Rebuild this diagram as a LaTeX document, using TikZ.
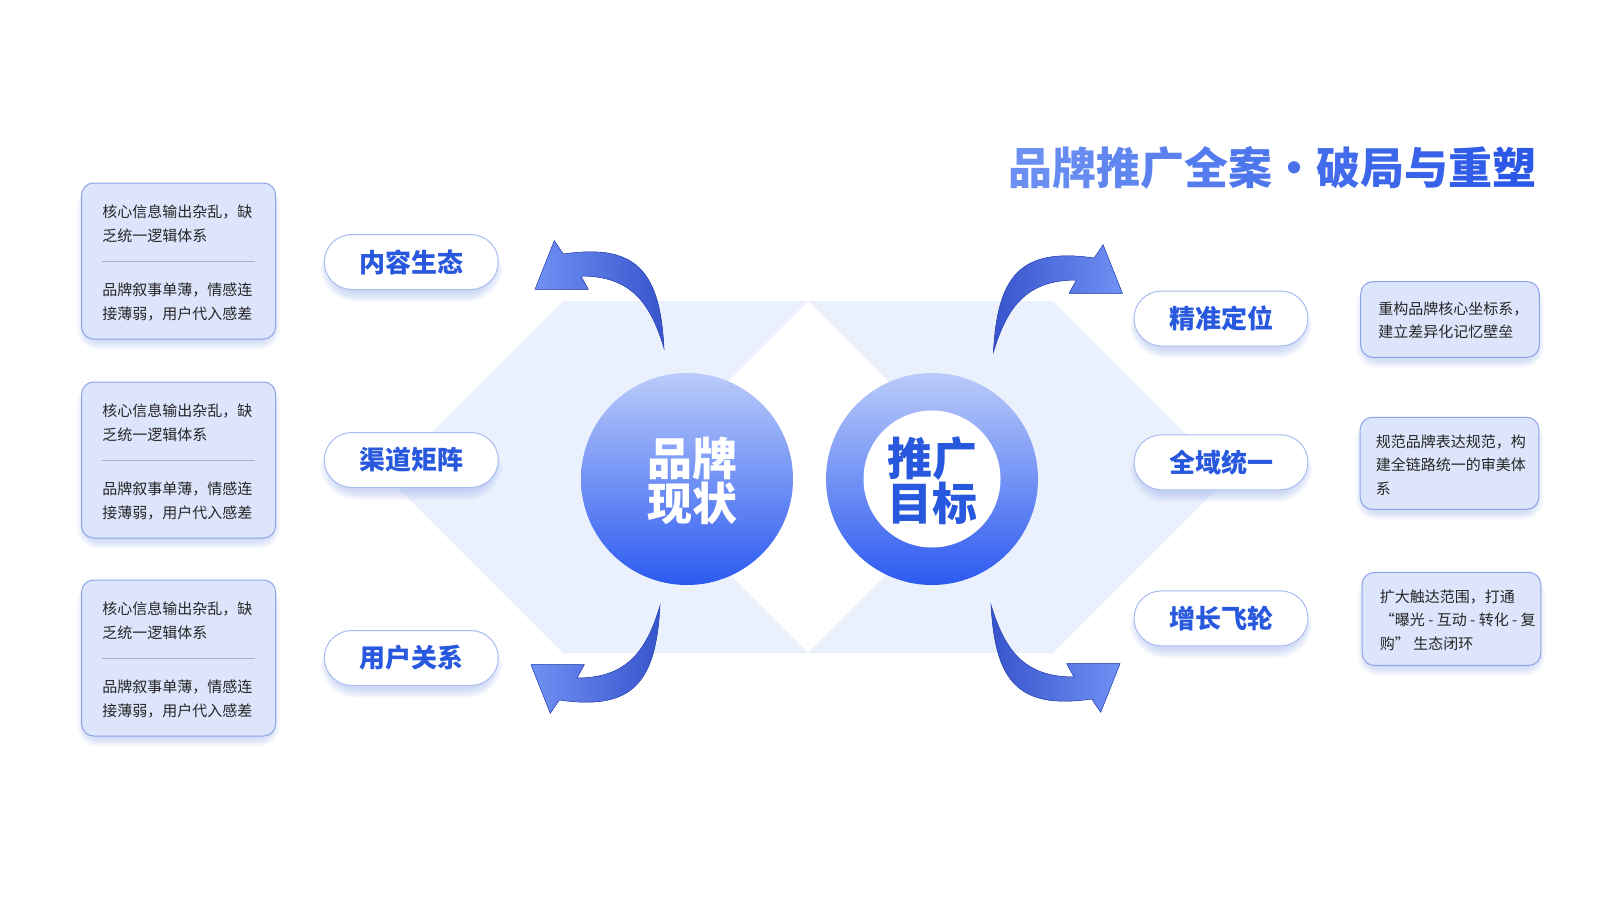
\documentclass[tikz,border=0pt]{standalone}
\usepackage{fontspec}
\newfontfamily\cjk{Noto Sans CJK SC}
\usetikzlibrary{calc}
\pgfdeclarelayer{bg}\pgfdeclarelayer{sh}
\pgfsetlayers{bg,sh,main}
\definecolor{hexbg}{RGB}{234,241,253}
\definecolor{boxfill}{RGB}{221,229,252}
\definecolor{boxline}{RGB}{140,163,232}
\definecolor{pillline}{RGB}{168,188,240}
\definecolor{pilltext}{RGB}{40,88,222}
\definecolor{circtop}{RGB}{186,203,250}
\definecolor{circbot}{RGB}{44,90,240}
\definecolor{arrlight}{RGB}{112,145,244}
\definecolor{arrdark}{RGB}{56,84,204}
\definecolor{arredge}{RGB}{48,76,194}
\definecolor{shadowc}{RGB}{150,175,240}
\definecolor{txt}{RGB}{38,38,38}
\definecolor{divc}{RGB}{168,176,204}
\definecolor{titleA}{RGB}{108,144,242}
\definecolor{titleB}{RGB}{44,88,232}
\newcommand\softshadow[3]{%
 \begin{pgfonlayer}{sh}
  \foreach \i in {0,...,9}{
   \pgfmathsetmacro\rr{#3+\i}
   \fill[shadowc, opacity=0.05, rounded corners=\rr pt]
     ($(#1.north west)+(5-\i,#2+5-\i)$) rectangle ($(#1.south east)+(\i-5,#2+\i-5)$);
  }
 \end{pgfonlayer}}
\begin{document}
\begin{tikzpicture}[x=1pt,y=-1pt,
  pill/.style={draw=pillline, line width=1pt, fill=white, rounded corners=27.5pt,
    minimum width=174pt, minimum height=55pt, inner sep=0pt,
    font=\cjk\bfseries\fontsize{26}{26}\selectfont, text=pilltext},
  infobox/.style={draw=boxline, line width=1pt, fill=boxfill, rounded corners=12pt, inner sep=0pt},
  boxtxt/.style={font=\cjk\fontsize{15}{23.5}\selectfont, text=txt, anchor=west, align=left, inner sep=0pt},
  divider/.style={draw=divc, line width=1pt},
  arrowshape/.style={insert path={(563.3,254) .. controls (638,243) and (660,273) .. (664,348.3)
     .. controls (650.5,303) and (631,276) .. (581,276) -- (588.3,289.3) -- (535,289.3) -- (554.3,240.7) -- cycle}},
  bigtxt/.style={font=\cjk\bfseries\fontsize{45}{45}\selectfont, align=center, inner sep=0pt}
]
\begin{pgfonlayer}{bg}
\fill[white] (0,0) rectangle (1600,900);
\fill[hexbg] (563,301) -- (808,301) -- (632,477) -- (808,653) -- (563,653) -- (387,477) -- cycle;
\fill[hexbg] (808,301) -- (1053,301) -- (1229,477) -- (1053,653) -- (808,653) -- (984,477) -- cycle;
\end{pgfonlayer}
\useasboundingbox (0,0) rectangle (1600,900);

% title
\node[font=\cjk\bfseries\fontsize{44}{44}\selectfont, inner sep=0pt] (title) at (1272,168)
 {{\color{titleB!0!titleA}品}{\color{titleB!9!titleA}牌}{\color{titleB!18!titleA}推}{\color{titleB!27!titleA}广}{\color{titleB!36!titleA}全}{\color{titleB!45!titleA}案}{\color{titleB!55!titleA}・}{\color{titleB!64!titleA}破}{\color{titleB!73!titleA}局}{\color{titleB!82!titleA}与}{\color{titleB!91!titleA}重}{\color{titleB!100!titleA}塑}};

% left boxes
\foreach \n/\y in {1/261,2/460,3/658}{
  \node[infobox, minimum width=194pt, minimum height=156pt] (lb\n) at (178.6,\y) {};
  \softshadow{lb\n}{6}{12}
  \draw[divider] ($(lb\n.west)+(21,0)$) -- ($(lb\n.east)+(-21,0)$);
  \node[boxtxt] (lbt\n) at ($(lb\n.west)+(21,-37.5)$) {核心信息输出杂乱，缺\\乏统一逻辑体系};
  \node[boxtxt] (lbb\n) at ($(lb\n.west)+(21,41)$) {品牌叙事单薄，情感连\\接薄弱，用户代入感差};
}

% pills
\node[pill] (pl1) at (411.3,262) {内容生态};
\node[pill] (pl2) at (411.3,460) {渠道矩阵};
\node[pill] (pl3) at (411.3,658) {用户关系};
\node[pill] (pr1) at (1221,318.5) {精准定位};
\node[pill] (pr2) at (1221,462.3) {全域统一};
\node[pill] (pr3) at (1221,618.4) {增长飞轮};
\foreach \p in {pl1,pl2,pl3,pr1,pr2,pr3}{\softshadow{\p}{8}{27.5}}

% right boxes
\node[infobox, minimum width=178.6pt, minimum height=75.6pt] (rb1) at (1450,319.5) {};
\node[infobox, minimum width=178.6pt, minimum height=92pt] (rb2) at (1449.5,463.3) {};
\node[infobox, minimum width=178.6pt, minimum height=93pt] (rb3) at (1451.5,618.9) {};
\foreach \b in {rb1,rb2,rb3}{\softshadow{\b}{6}{12}}
\node[boxtxt] (rbt1) at ($(rb1.west)+(18,1)$) {重构品牌核心坐标系，\\建立差异化记忆壁垒};
\node[boxtxt] (rbt2) at ($(rb2.west)+(16,1.5)$) {规范品牌表达规范，构\\建全链路统一的审美体\\系};
\node[boxtxt] (rbt3) at ($(rb3.west)+(18,1)$) {扩大触达范围，打通\\“曝光 - 互动 - 转化 - 复\\购” 生态闭环};

% circles
\node[circle, minimum size=212pt, top color=circtop, bottom color=circbot, inner sep=0pt] (c1) at (687,479) {};
\node[bigtxt, text=white] (c1t) at (692,481) {品牌\\现状};
\node[circle, minimum size=212pt, top color=circtop, bottom color=circbot, inner sep=0pt] (c2) at (932,479) {};
\node[circle, minimum size=137pt, fill=white, inner sep=0pt] (c2in) at (932,479) {};
\node[bigtxt, text=pilltext] (c2t) at (932,481) {推广\\目标};

% curved arrows
\fill[arrowshape, left color=arrlight, right color=arrdark, draw=arredge, line width=0.5pt];
\begin{scope}[shift={(1657.4,4)}, xscale=-1]
\fill[arrowshape, left color=arrdark, right color=arrlight, draw=arredge, line width=0.5pt];
\end{scope}
\begin{scope}[shift={(-4,954)}, yscale=-1]
\fill[arrowshape, left color=arrlight, right color=arrdark, draw=arredge, line width=0.5pt];
\end{scope}
\begin{scope}[shift={(1655,953)}, xscale=-1, yscale=-1]
\fill[arrowshape, left color=arrdark, right color=arrlight, draw=arredge, line width=0.5pt];
\end{scope}
\end{tikzpicture}
\end{document}
